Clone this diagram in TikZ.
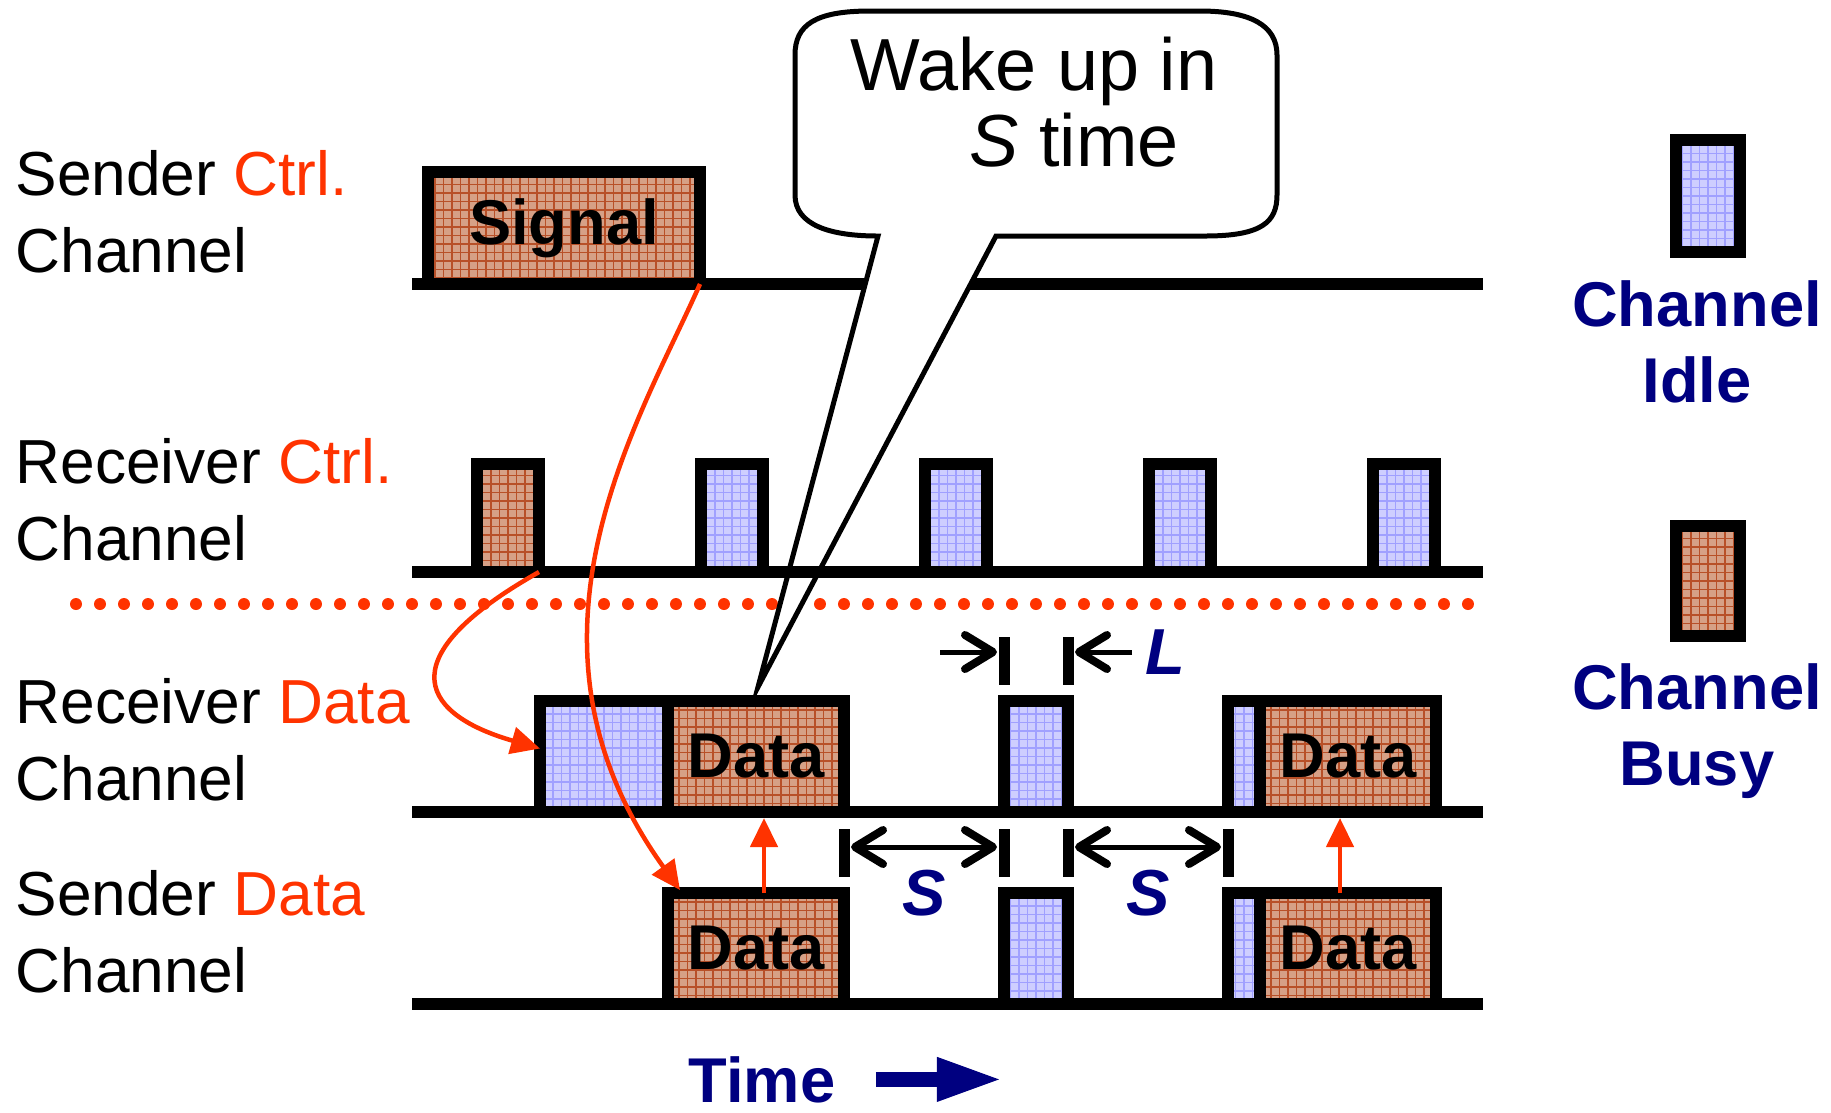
\documentclass[tikz,border=0pt]{standalone}
\usepackage{fontspec}
\setmainfont{Liberation Sans}
\usetikzlibrary{arrows.meta,calc}
\definecolor{ctrlred}{RGB}{255,51,0}
\definecolor{navy}{RGB}{0,0,128}
\definecolor{busyfill}{RGB}{214,160,134}
\definecolor{busygrid}{RGB}{184,80,40}
\definecolor{idlefill}{RGB}{206,206,255}
\definecolor{idlegrid}{RGB}{160,160,255}

\begin{document}
\begin{tikzpicture}[x=0.1mm,y=-0.1mm,
chline/.style={line width=1.2mm},
slot/.style={draw,line width=1.2mm,inner sep=0pt,outer sep=0pt,font=\fontsize{18}{21.6}\selectfont\bfseries},
busy/.style={slot,fill=busyfill,path picture={\draw[busygrid,line width=0.15mm,step=0.85mm] (path picture bounding box.south west) grid (path picture bounding box.north east);}},
idle/.style={slot,fill=idlefill,path picture={\draw[idlegrid,line width=0.15mm,step=0.85mm] (path picture bounding box.south west) grid (path picture bounding box.north east);}},
ctrlbox/.style={minimum width=6.2mm,minimum height=10.8mm,anchor=south},
databox/.style={minimum height=11.1mm,anchor=south west},
lbl/.style={font=\fontsize{17.7}{21.9}\selectfont,align=left,inner sep=0pt,anchor=base west},
leg/.style={font=\fontsize{18}{21.6}\selectfont\bfseries,text=navy,align=center,inner sep=0pt,anchor=base},
dimlbl/.style={font=\fontsize{18.5}{22}\selectfont\bfseries\itshape,text=navy,inner sep=0pt},
sig/.style={draw=ctrlred,line width=0.45mm,-{Triangle[length=2.9mm,width=2.7mm]}},
bar/.style={line width=1.1mm},
barb/.style={Straight Barb[length=2.8mm,width=3.4mm,line width=0.8mm,round]},
dim/.style={line width=0.5mm,{Straight Barb[length=2.8mm,width=3.4mm,line width=0.8mm,round]}-{Straight Barb[length=2.8mm,width=3.4mm,line width=0.8mm,round]}},
dimone/.style={line width=0.5mm,-{Straight Barb[length=2.8mm,width=3.4mm,line width=0.8mm,round]}},
bubble/.style={draw,fill=white,line width=0.5mm}
]
\useasboundingbox (0,0) rectangle (1831,1112);

\draw[ctrlred,line width=1.2mm,line cap=round,dash pattern=on 0pt off 2.4mm] (76,604) -- (1480,604);

\draw[chline] (412,284) -- (1483,284);
\node[busy,minimum width=27.2mm,minimum height=11.2mm,anchor=south west] (sig) at (428,284) {Signal};

\coordinate (tip) at (758,687);
\draw[bubble] (878,236) -- (tip) -- (996,236) -- (1205,236) .. controls (1262,236) and (1277,222) .. (1277,195)
  -- (1277,55) .. controls (1277,25) and (1250,11) .. (1200,11) -- (870,11) .. controls (815,11) and (795,25) .. (795,55)
  -- (795,195) .. controls (795,225) and (830,236) .. cycle;
\node[font=\fontsize{21}{21.6}\selectfont,align=left,inner sep=0pt,anchor=base west] (wake) at (850,166) {Wake up in\\\hspace*{11.9mm}\textit{S} time};

\draw[chline] (412,572) -- (1483,572);
\node[busy,ctrlbox] (rc0) at (508,572) {};
\foreach \i in {1,...,4} \node[idle,ctrlbox] (rc\i) at (508+224*\i,572) {};

\draw[chline] (412,812) -- (1483,812);
\node[idle,databox,minimum width=12.8mm] (rdI) at (540,812) {};
\node[busy,databox,minimum width=17.6mm] (rdD) at (668,812) {Data};
\node[idle,databox,minimum width=6.4mm] (rdW) at (1004,812) {};
\node[idle,databox,minimum width=3.2mm] (rdS) at (1228,812) {};
\node[busy,databox,minimum width=17.6mm] (rdE) at (1260,812) {Data};

\draw[chline] (412,1004) -- (1483,1004);
\node[busy,databox,minimum width=17.6mm] (sdD) at (668,1004) {Data};
\node[idle,databox,minimum width=6.4mm] (sdW) at (1004,1004) {};
\node[idle,databox,minimum width=3.2mm] (sdS) at (1228,1004) {};
\node[busy,databox,minimum width=17.6mm] (sdE) at (1260,1004) {Data};

\draw[sig] (sig.south east) .. controls +(-60,136) and +(-180,-250) .. ($(sdD.north west)+(12,-3)$);
\draw[sig] (rc0.south east) .. controls +(-159,90) and +(-112,-32) .. ([yshift=0.8mm]rdI.west);
\draw[sig] ([xshift=0.8mm]sdD.north) -- ([xshift=0.8mm,yshift=-0.6mm]rdD.south);
\draw[sig] ([xshift=-0.8mm]sdE.north) -- ([xshift=-0.8mm,yshift=-0.6mm]rdE.south);

\foreach \n in {rdW.north west,rdW.north east} \draw[bar] ($(\n)+(0,-64)$) -- ++(0,48);
\foreach \n in {rdD.south east,rdW.south west,rdW.south east,rdS.south west} \draw[bar] ($(\n)+(0,17)$) -- ++(0,48);
\draw[dimone] ($(rdW.north west)+(-64,-49)$) -- ($(rdW.north west)+(-7,-49)$);
\draw[dimone] ($(rdW.north east)+(64,-49)$) -- ($(rdW.north east)+(7,-49)$) node[dimlbl,pos=0,anchor=west,xshift=1.1mm] (dimL) {L};
\draw[dim] ($(rdD.south east)+(7,35)$) -- ($(rdW.south west)+(-7,35)$) node[dimlbl,midway,yshift=-4.6mm] (dimS1) {S};
\draw[dim] ($(rdW.south east)+(7,35)$) -- ($(rdS.south west)+(-7,35)$) node[dimlbl,midway,yshift=-4.6mm] (dimS2) {S};

\node[lbl] (lsc) at (15,272) {Sender \textcolor{ctrlred}{Ctrl.}\\Channel};
\node[lbl] (lrc) at (15,560) {Receiver \textcolor{ctrlred}{Ctrl.}\\Channel};
\node[lbl] (lrd) at (15,800) {Receiver \textcolor{ctrlred}{Data}\\Channel};
\node[lbl] (lsd) at (15,992) {Sender \textcolor{ctrlred}{Data}\\Channel};

\node[idle,minimum width=6.4mm,minimum height=11.2mm] (kidle) at (1708,196) {};
\node[leg] (tidle) at (1697,402) {Channel\\Idle};
\node[busy,minimum width=6.4mm,minimum height=11mm] (kbusy) at (1708,581) {};
\node[leg] (tbusy) at (1697,785) {Channel\\Busy};

\node[leg,anchor=base west] (time) at (688,1102) {Time};
\draw[navy,line width=1.5mm,-{Triangle[length=6.6mm,width=4mm]}] ([xshift=4mm]time.east) -- ++(127,0);
\end{tikzpicture}
\end{document}
